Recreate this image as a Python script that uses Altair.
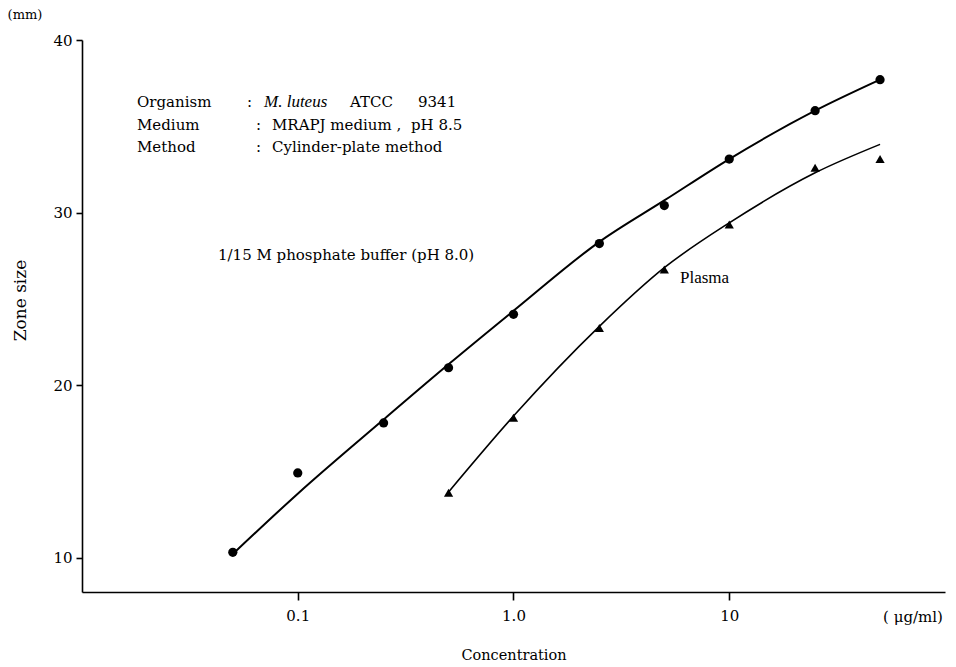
import altair as alt
import pandas as pd

# ---- data ----
conc_buffer = [0.05, 0.1, 0.25, 0.5, 1.0, 2.5, 5.0, 10.0, 25.0, 50.0]
zone_buffer = [10.3, 14.9, 17.8, 21.0, 24.1, 28.2, 30.4, 33.1, 35.9, 37.7]
fit_buffer = [10.2, 13.7, 18.0, 21.2, 24.3, 28.3, 30.7, 33.1, 35.9, 37.7]

conc_plasma = [0.5, 1.0, 2.5, 5.0, 10.0, 25.0, 50.0]
zone_plasma = [13.75, 18.1, 23.3, 26.7, 29.3, 32.6, 33.1]
fit_plasma = [13.8, 18.2, 23.4, 26.8, 29.4, 32.3, 33.95]

x_ticks = [0.1, 1.0, 10.0]
y_ticks = [10, 20, 30, 40]

FONT = "DejaVu Serif"
FONT2 = "Liberation Serif"

buf = pd.DataFrame({"conc": conc_buffer, "zone": zone_buffer, "fit": fit_buffer})
pla = pd.DataFrame({"conc": conc_plasma, "zone": zone_plasma, "fit": fit_plasma})

xscale = alt.Scale(type="log", domain=[0.01, 100], nice=False)
yscale = alt.Scale(domain=[8, 40], nice=False, zero=False)

xaxis = alt.Axis(
    values=x_ticks, labelExpr="datum.value == 1 ? '1.0' : datum.label",
    grid=False, domainColor="black", domainWidth=1.6, tickColor="black",
    tickWidth=1.6, tickSize=8, labelPadding=8, labelFont=FONT, labelFontSize=15,
    labelColor="black", title="Concentration", titleFont=FONT, titleFontSize=14.5,
    titleFontWeight="normal", titleColor="black", titleY=63, titleBaseline="middle",
)
yaxis = alt.Axis(
    values=y_ticks, grid=False, domainColor="black", domainWidth=1.6,
    tickColor="black", tickWidth=1.6, tickSize=6, labelPadding=4,
    labelFont=FONT, labelFontSize=15, labelColor="black",
    title="Zone  size", titleFont=FONT, titleFontSize=17, titleFontWeight="normal",
    titleColor="black", titleAngle=270, titleX=-62, titleY=260,
    titleAlign="center", titleBaseline="middle",
)

def xenc():
    return alt.X("conc:Q", scale=xscale, axis=xaxis)

def yenc(field):
    return alt.Y(f"{field}:Q", scale=yscale, axis=yaxis)

line_buf = alt.Chart(buf).mark_line(interpolate="monotone", color="black", strokeWidth=2).encode(
    x=xenc(), y=yenc("fit"))
line_pla = alt.Chart(pla).mark_line(interpolate="monotone", color="black", strokeWidth=1.6).encode(
    x=xenc(), y=yenc("fit"))
pts_buf = alt.Chart(buf).mark_point(shape="circle", filled=True, size=85, color="black", opacity=1).encode(
    x=xenc(), y=yenc("zone"))
pts_pla = alt.Chart(pla).mark_point(shape="triangle-up", filled=True, size=85, color="black", opacity=1).encode(
    x=xenc(), y=yenc("zone"))

one = pd.DataFrame({"k": [0]})
OX, OY = 82, 40  # plot origin in page pixels

def label(txt, px, py, size=15, style="normal", align="left", font=FONT):
    return alt.Chart(one).mark_text(
        x=px - OX, y=py - OY, font=font, fontSize=size, fontStyle=style,
        align=align, baseline="middle", color="black",
    ).encode(text=alt.value(txt))

texts = [
    label("Organism", 137, 102),
    label(":", 247, 102),
    label("M. luteus", 264, 102, size=17, style="italic", font=FONT2),
    label("ATCC", 350, 102),
    label("9341", 418, 102),
    label("Medium", 137, 124.5),
    label(":", 256, 124.5),
    label("MRAPJ medium ,", 272, 124.5),
    label("pH 8.5", 411, 124.5),
    label("Method", 137, 147),
    label(":", 256, 147),
    label("Cylinder-plate method", 272, 147),
    label("1/15 M phosphate buffer (pH 8.0)", 218, 255),
    label("Plasma", 680, 278, size=17, font=FONT2),
    label("(mm)", 25, 15, size=13, align="center"),
    label("( μg/ml)", 913, 617, size=15, align="center"),
]

chart = alt.layer(line_buf, line_pla, pts_buf, pts_pla, *texts).properties(
    width=863, height=552,
    padding={"left": 82, "top": 40, "right": 11, "bottom": 75},
    autosize=alt.AutoSizeParams(type="none"),
    background="white",
).configure_view(stroke=None)

chart.save("out.html", embed_options={"renderer": "svg", "actions": False})
